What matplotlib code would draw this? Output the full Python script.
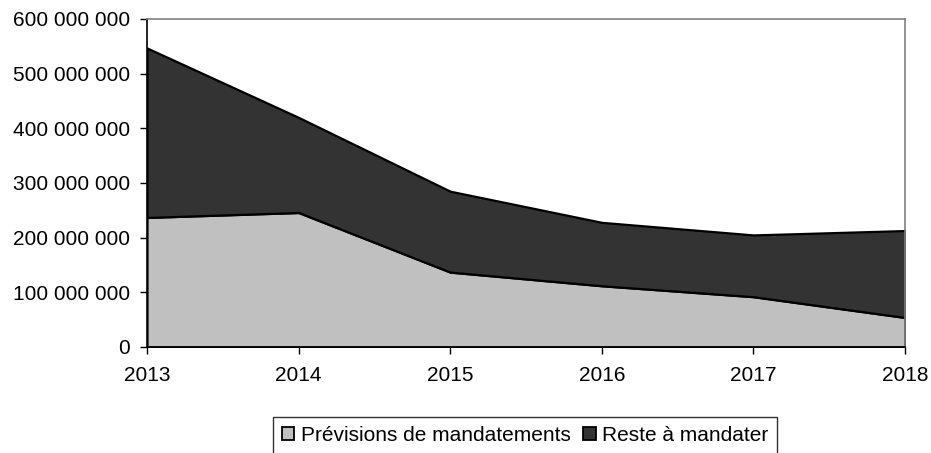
import numpy as np
import matplotlib.pyplot as plt
from matplotlib.patches import Patch
from matplotlib.ticker import FuncFormatter

plt.rcParams['font.family'] = ['Liberation Sans', 'DejaVu Sans']

years = [2013, 2014, 2015, 2016, 2017, 2018]
previsions = [237e6, 246e6, 137e6, 112e6, 92e6, 54e6]
reste = [310e6, 174e6, 148e6, 116e6, 113e6, 159e6]
labels = ['Prévisions de mandatements', 'Reste à mandater']
colors = ['#c0c0c0', '#333333']

fig = plt.figure(figsize=(9.31, 4.53), dpi=100)
ax = fig.add_axes([147 / 931, 1 - 347 / 453, 758 / 931, 328 / 453])

ax.stackplot(years, previsions, reste, colors=colors,
             edgecolor='black', linewidth=1.6)

ax.set_xlim(2013, 2018)
ax.set_ylim(0, 600e6)
ax.set_xticks(years)
ax.set_yticks(np.arange(0, 600e6 + 1, 100e6))
ax.yaxis.set_major_formatter(FuncFormatter(lambda v, p: f'{int(v):,}'.replace(',', ' ')))
ax.tick_params(direction='out', length=5, width=1, labelsize=15, colors='black')
ax.tick_params(axis='x', pad=9)
ax.tick_params(axis='y', pad=7)

for s in ['left', 'bottom']:
    ax.spines[s].set_color('black')
    ax.spines[s].set_linewidth(1.2)
for s in ['top', 'right']:
    ax.spines[s].set_color('#808080')
    ax.spines[s].set_linewidth(1.2)

handles = [Patch(facecolor=c, edgecolor='black', linewidth=1.3) for c in colors]
leg = fig.legend(handles, labels, loc='center', bbox_to_anchor=(525 / 931, 1 - 435.5 / 453),
                 ncol=2, fontsize=15, frameon=True, fancybox=False,
                 handlelength=0.6, handleheight=0.6, handletextpad=0.3,
                 columnspacing=0.6, borderpad=0.45, borderaxespad=0)
leg.get_frame().set_edgecolor('black')
leg.get_frame().set_linewidth(1.0)

fig.savefig('out.png', dpi=100)
